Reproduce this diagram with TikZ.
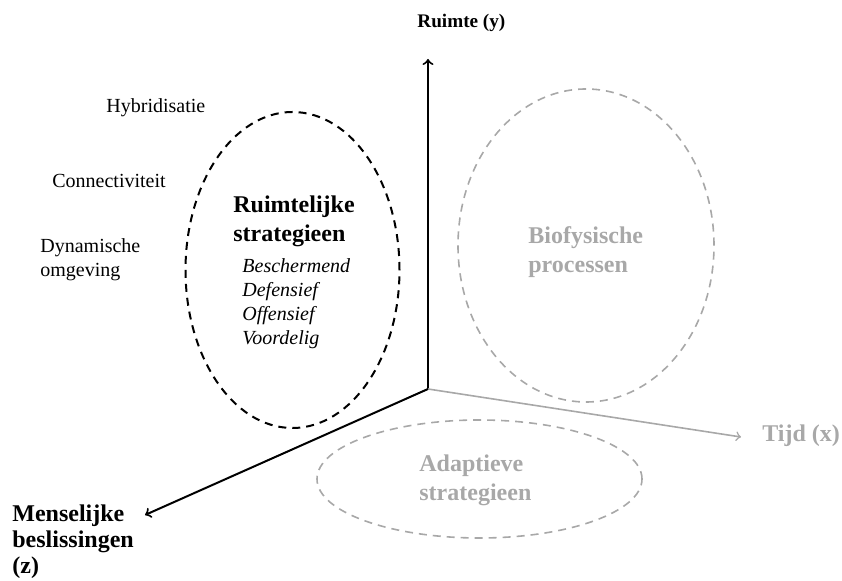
\documentclass[tikz,border=0pt]{standalone}
\usepackage{fontspec}
\setmainfont{Liberation Serif}
\usetikzlibrary{shapes.geometric}
\definecolor{lightgrey}{HTML}{A8A8A8}
\begin{document}
\begin{tikzpicture}[x=0.5pt, y=-0.5pt,
    axis/.style ={line width=1pt, ->},
    greyaxis/.style ={line width=0.8pt, ->, lightgrey},
    zone/.style ={ellipse, draw, line width=1pt, dash pattern=on 4pt off 3pt, inner sep=0pt},
    greyzone/.style ={zone, lightgrey, line width=0.8pt},
    title/.style ={font=\fontsize{12}{14.5}\selectfont\bfseries, align=left, inner sep=0pt},
    label/.style ={font=\fontsize{10}{12}\selectfont, align=left, inner sep=0pt}]
   \useasboundingbox (0,0) rectangle (842,581);
   % axes
   \coordinate (O) at (428,389);
   \coordinate (Y) at (428,59);
   \coordinate (X) at (741,437);
   \coordinate (Z) at (145,515);
   \draw[axis] (O) to (Y);
   \draw[greyaxis] (O) to (X);
   \draw[axis] (O) to (Z);
   % zones
   \node[zone, minimum width=107pt, minimum height=158pt] (ruimtelijk) at (292.5,270) {};
   \node[greyzone, minimum width=128pt, minimum height=156.5pt] (biofysisch) at (586,245.5) {};
   \node[greyzone, minimum width=162.5pt, minimum height=59pt] (adaptief) at (479.5,479) {};
   % texts (base = last line)
   \node[title, anchor=base west] (ylabel) at (417,28) {\fontsize{9.6}{12}\selectfont Ruimte (y)};
   \node[title, anchor=base west, lightgrey] (xlabel) at (762,442) {Tijd (x)};
   \node[title, anchor=base west, font=\fontsize{12}{13}\selectfont\bfseries] (zlabel) at (12,574) {Menselijke\\beslissingen\\(z)};
   \node[title, anchor=base west] (rtitle) at (233,242) {Ruimtelijke\\strategieen};
   \node[label, anchor=base west, font=\fontsize{10}{12}\selectfont\itshape] (rlist) at (242,345)
      {Beschermend\\Defensief\\Offensief\\Voordelig};
   \node[title, anchor=base west, lightgrey] (btitle) at (528,273) {Biofysische\\processen};
   \node[title, anchor=base west, lightgrey] (atitle) at (419,501) {Adaptieve\\strategieen};
   \node[label, anchor=base west] (hybrid) at (106,113) {Hybridisatie};
   \node[label, anchor=base west] (connect) at (52,188) {Connectiviteit};
   \node[label, anchor=base west] (dynamic) at (40,277) {Dynamische\\omgeving};
\end{tikzpicture}
\end{document}
